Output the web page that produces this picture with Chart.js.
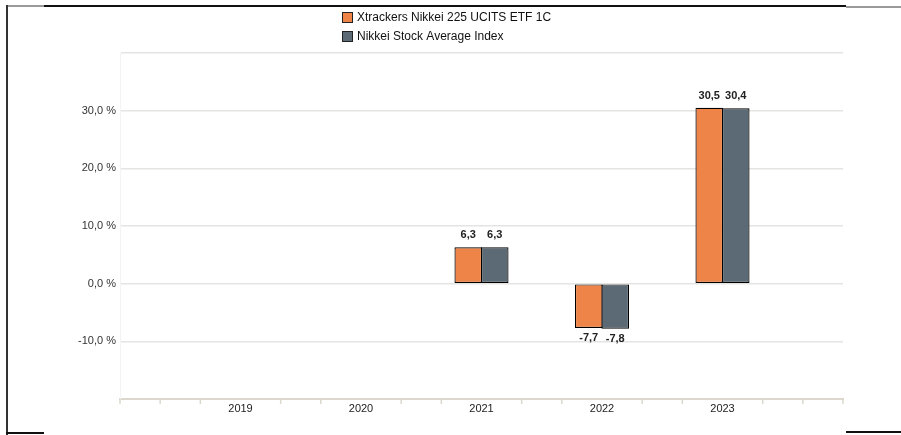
<!DOCTYPE html>
<html>
<head>
<meta charset="utf-8">
<script src="https://cdn.jsdelivr.net/npm/chart.js@4/dist/chart.umd.min.js"></script>
<style>
  html, body { margin: 0; padding: 0; background: #fff; }
  #wrap { position: relative; width: 901px; height: 435px; overflow: hidden; }
  canvas { position: absolute; left: 0; top: 0; }
  .ln { position: absolute; }
</style>
</head>
<body>
<div id="wrap">
  <canvas id="c" width="901" height="435"></canvas>
  <div class="ln" style="left:7px;top:5px;width:37px;height:2px;background:#9a9a9a"></div>
  <div class="ln" style="left:44px;top:5px;width:802px;height:2px;background:#111"></div>
  <div class="ln" style="left:846px;top:6px;width:55px;height:2px;background:#9a9a9a"></div>
  <div class="ln" style="left:6px;top:5px;width:2px;height:430px;background:#333"></div>
  <div class="ln" style="left:6px;top:432px;width:38px;height:2px;background:#111"></div>
  <div class="ln" style="left:846px;top:431px;width:55px;height:2px;background:#111"></div>
</div>
<script>
const categories = ['', '2019', '2020', '2021', '2022', '2023', ''];
const seriesNames = ['Xtrackers Nikkei 225 UCITS ETF 1C', 'Nikkei Stock Average Index'];
const etfValues = [null, null, null, 6.3, -7.7, 30.5, null];
const indexValues = [null, null, null, 6.3, -7.8, 30.4, null];
const yTicks = [-20, -10, 0, 10, 20, 30, 40];
const yLabelled = [-10, 0, 10, 20, 30];

const colors = ['#EF8448', '#5B6A74'];
const axisColor = '#dcd8ce';
const fontFamily = '"Liberation Sans", Arial, Helvetica, sans-serif';

function fmt(v) { return v.toFixed(1).replace('.', ','); }

const legendPlugin = {
  id: 'customLegend',
  afterDraw(chart) {
    const ctx = chart.ctx;
    ctx.save();
    ctx.font = '12px ' + fontFamily;
    ctx.textBaseline = 'middle';
    ctx.textAlign = 'left';
    chart.data.datasets.forEach((ds, i) => {
      const y = 18 + i * 19;
      ctx.fillStyle = ds.backgroundColor;
      ctx.fillRect(342.5, y - 5.5, 10, 10);
      ctx.strokeStyle = '#222';
      ctx.lineWidth = 1;
      ctx.strokeRect(342.5, y - 5.5, 10, 10);
      ctx.fillStyle = '#111';
      ctx.fillText(ds.label, 357, y);
    });
    ctx.restore();
  }
};

const tickPlugin = {
  id: 'minorTicks',
  afterDraw(chart) {
    const x = chart.scales.x;
    const ctx = chart.ctx;
    const y0 = chart.chartArea.bottom;
    ctx.save();
    ctx.strokeStyle = axisColor;
    ctx.lineWidth = 1.5;
    const n = categories.length - 1;
    for (let i = 0; i <= n; i++) {
      const ks = (i < n) ? [0, 1, 2] : [0];
      ks.forEach(k => {
        if (k === 0 && i !== 0 && i !== n) return;
        const px = x.getPixelForValue(i + k / 3);
        ctx.beginPath();
        ctx.moveTo(px, y0);
        ctx.lineTo(px, y0 + 5);
        ctx.stroke();
      });
    }
    ctx.restore();
  }
};

const labelPlugin = {
  id: 'barLabels',
  afterDatasetsDraw(chart) {
    const ctx = chart.ctx;
    ctx.save();
    ctx.font = 'bold 11px ' + fontFamily;
    ctx.fillStyle = '#222';
    ctx.textAlign = 'center';
    ctx.textBaseline = 'middle';
    chart.data.datasets.forEach((ds, di) => {
      const meta = chart.getDatasetMeta(di);
      meta.data.forEach((bar, idx) => {
        const v = ds.data[idx];
        if (v === null || v === undefined) return;
        const y = v >= 0 ? bar.y - 12 : bar.y + 10;
        ctx.fillText(fmt(v), bar.x, y);
      });
    });
    ctx.restore();
  }
};

new Chart(document.getElementById('c'), {
  type: 'bar',
  data: {
    labels: categories,
    datasets: [
      { label: seriesNames[0], data: etfValues, backgroundColor: colors[0], borderColor: '#000', borderWidth: 1.2, borderSkipped: false },
      { label: seriesNames[1], data: indexValues, backgroundColor: colors[1], borderColor: '#000', borderWidth: 1.2, borderSkipped: false }
    ]
  },
  options: {
    responsive: false,
    animation: false,
    devicePixelRatio: 1,
    layout: { padding: { top: 53, right: 58, left: 0, bottom: 0 } },
    categoryPercentage: 0.44,
    barPercentage: 1.04,
    plugins: {
      legend: { display: false },
      tooltip: { enabled: false }
    },
    scales: {
      x: {
        type: 'category',
        offset: false,
        grid: { display: false, drawTicks: false },
        border: { display: true, color: axisColor, width: 2 },
        ticks: {
          autoSkip: false, maxRotation: 0, padding: 3,
          color: '#222',
          font: { family: fontFamily, size: 11 }
        },
        afterFit(s) { s.height = 36; }
      },
      y: {
        min: -20, max: 40,
        afterBuildTicks(s) { s.ticks = yTicks.map(v => ({ value: v })); },
        grid: {
          drawTicks: false,
          lineWidth: 1.5,
          color: ctx => (ctx.tick && ctx.tick.value === -20) ? 'rgba(0,0,0,0)' : '#e4e4e2'
        },
        border: { display: true, color: '#f3f3f3', width: 1 },
        ticks: {
          padding: 4,
          color: '#333',
          font: { family: fontFamily, size: 11 },
          callback: v => yLabelled.includes(v) ? fmt(v) + ' %' : ''
        },
        afterFit(s) { s.width = 120; }
      }
    }
  },
  plugins: [legendPlugin, tickPlugin, labelPlugin]
});
</script>
</body>
</html>
